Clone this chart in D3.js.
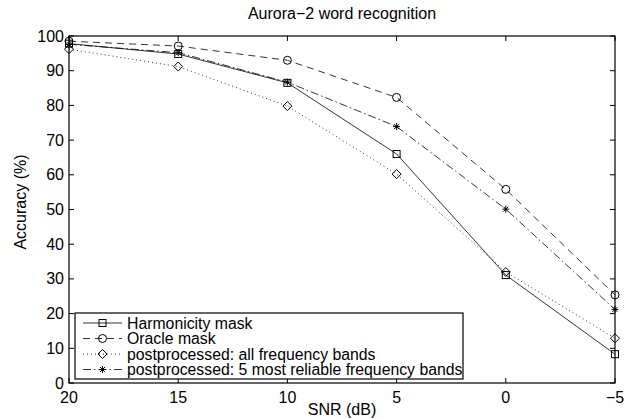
<!DOCTYPE html>
<html>
<head>
<meta charset="utf-8">
<script src="https://cdn.jsdelivr.net/npm/d3@7"></script>
<style>
  body { margin: 0; background: #fff; }
  text { font-family: "Liberation Sans", Arial, sans-serif; fill: #000; }
</style>
</head>
<body>
<script>
// SNR levels (dB) and accuracies
const snr = [20, 15, 10, 5, 0, -5];
const harmonicity = [97.8, 94.8, 86.5, 66.0, 31.1, 8.3];
const oracle = [98.5, 97.1, 93.0, 82.3, 55.8, 25.4];
const allBands = [96.2, 91.2, 79.8, 60.2, 32.0, 12.9];
const reliable5 = [97.6, 95.2, 86.7, 73.9, 50.1, 21.2];
const xTicks = [20, 15, 10, 5, 0, -5];
const yTicks = [0, 10, 20, 30, 40, 50, 60, 70, 80, 90, 100];

const series = [
  {name: "Harmonicity mask", values: harmonicity, dash: null, marker: "square"},
  {name: "Oracle mask", values: oracle, dash: "7,5", marker: "circle"},
  {name: "postprocessed: all frequency bands", values: allBands, dash: "1,3", marker: "diamond"},
  {name: "postprocessed: 5 most reliable frequency bands", values: reliable5, dash: "8,3,1.5,3", marker: "star"}
];

const width = 626, height = 418;
const mLeft = 69, mRight = 615, mTop = 36, mBottom = 383;
const fs = 16;

const svg = d3.select("body").append("svg")
  .attr("width", width)
  .attr("height", height);

const x = d3.scaleLinear().domain([20, -5]).range([mLeft, mRight]);
const y = d3.scaleLinear().domain([0, 100]).range([mBottom, mTop]);

const fmt = d => d < 0 ? "\u2212" + Math.abs(d) : String(d);

// ticks on all four sides, pointing inward
const tl = 5;
const axisG = svg.append("g").attr("stroke", "#000").attr("stroke-width", 1);
xTicks.forEach(t => {
  axisG.append("line").attr("x1", x(t)).attr("x2", x(t)).attr("y1", mBottom).attr("y2", mBottom - tl);
  axisG.append("line").attr("x1", x(t)).attr("x2", x(t)).attr("y1", mTop).attr("y2", mTop + tl);
});
yTicks.forEach(t => {
  axisG.append("line").attr("x1", mLeft).attr("x2", mLeft + tl).attr("y1", y(t)).attr("y2", y(t));
  axisG.append("line").attr("x1", mRight).attr("x2", mRight - tl).attr("y1", y(t)).attr("y2", y(t));
});

svg.append("g").selectAll("text").data(xTicks).join("text")
  .attr("x", d => x(d))
  .attr("y", 403)
  .attr("text-anchor", "middle")
  .attr("font-size", fs)
  .text(fmt);

svg.append("g").selectAll("text").data(yTicks).join("text")
  .attr("x", mLeft - 5)
  .attr("y", d => y(d) + 5.5)
  .attr("text-anchor", "end")
  .attr("font-size", fs)
  .text(fmt);

// lines
const line = d3.line().x((d, i) => x(snr[i])).y(d => y(d));
svg.append("g").selectAll("path").data(series).join("path")
  .attr("d", d => line(d.values))
  .attr("fill", "none")
  .attr("stroke", "#000")
  .attr("stroke-width", 0.8)
  .attr("stroke-dasharray", d => d.dash);

function drawMarker(g, type, cx, cy) {
  if (type === "square") {
    g.append("rect").attr("x", cx - 3.5).attr("y", cy - 3.5).attr("width", 7).attr("height", 7)
      .attr("fill", "none").attr("stroke", "#000");
  } else if (type === "circle") {
    g.append("circle").attr("cx", cx).attr("cy", cy).attr("r", 4)
      .attr("fill", "none").attr("stroke", "#000");
  } else if (type === "diamond") {
    g.append("path").attr("d", `M${cx},${cy - 4.5}L${cx + 4.5},${cy}L${cx},${cy + 4.5}L${cx - 4.5},${cy}Z`)
      .attr("fill", "none").attr("stroke", "#000");
  } else {
    const r = 3.5;
    [0, 45, 90, 135].forEach(a => {
      const dx = r * Math.cos(a * Math.PI / 180), dy = r * Math.sin(a * Math.PI / 180);
      g.append("line").attr("x1", cx - dx).attr("y1", cy - dy).attr("x2", cx + dx).attr("y2", cy + dy)
        .attr("stroke", "#000").attr("stroke-width", 1);
    });
  }
}

const markG = svg.append("g");
series.forEach(s => {
  s.values.forEach((v, i) => drawMarker(markG, s.marker, x(snr[i]), y(v)));
});

// box
svg.append("rect")
  .attr("x", mLeft).attr("y", mTop)
  .attr("width", mRight - mLeft).attr("height", mBottom - mTop)
  .attr("fill", "none").attr("stroke", "#000").attr("stroke-width", 1.2);

// legend
const lg = svg.append("g");
lg.append("rect")
  .attr("x", 75).attr("y", 313).attr("width", 388).attr("height", 66)
  .attr("fill", "#fff").attr("stroke", "#000").attr("stroke-width", 1.2);
series.forEach((s, i) => {
  const yy = 323 + i * 15.5;
  lg.append("line").attr("x1", 83).attr("x2", 122).attr("y1", yy).attr("y2", yy)
    .attr("stroke", "#000").attr("stroke-width", 0.8).attr("stroke-dasharray", s.dash);
  drawMarker(lg, s.marker, 102.5, yy);
  lg.append("text").attr("x", 127).attr("y", yy + 5.5).attr("font-size", 15.8).text(s.name);
});

// title and axis labels
svg.append("text").attr("x", (mLeft + mRight) / 2).attr("y", 19)
  .attr("text-anchor", "middle").attr("font-size", fs).text("Aurora\u22122 word recognition");
svg.append("text").attr("x", (mLeft + mRight) / 2).attr("y", 415)
  .attr("text-anchor", "middle").attr("font-size", fs).text("SNR (dB)");
svg.append("text").attr("transform", "translate(26,202) rotate(-90)")
  .attr("text-anchor", "middle").attr("font-size", fs).text("Accuracy (%)");
</script>
</body>
</html>
